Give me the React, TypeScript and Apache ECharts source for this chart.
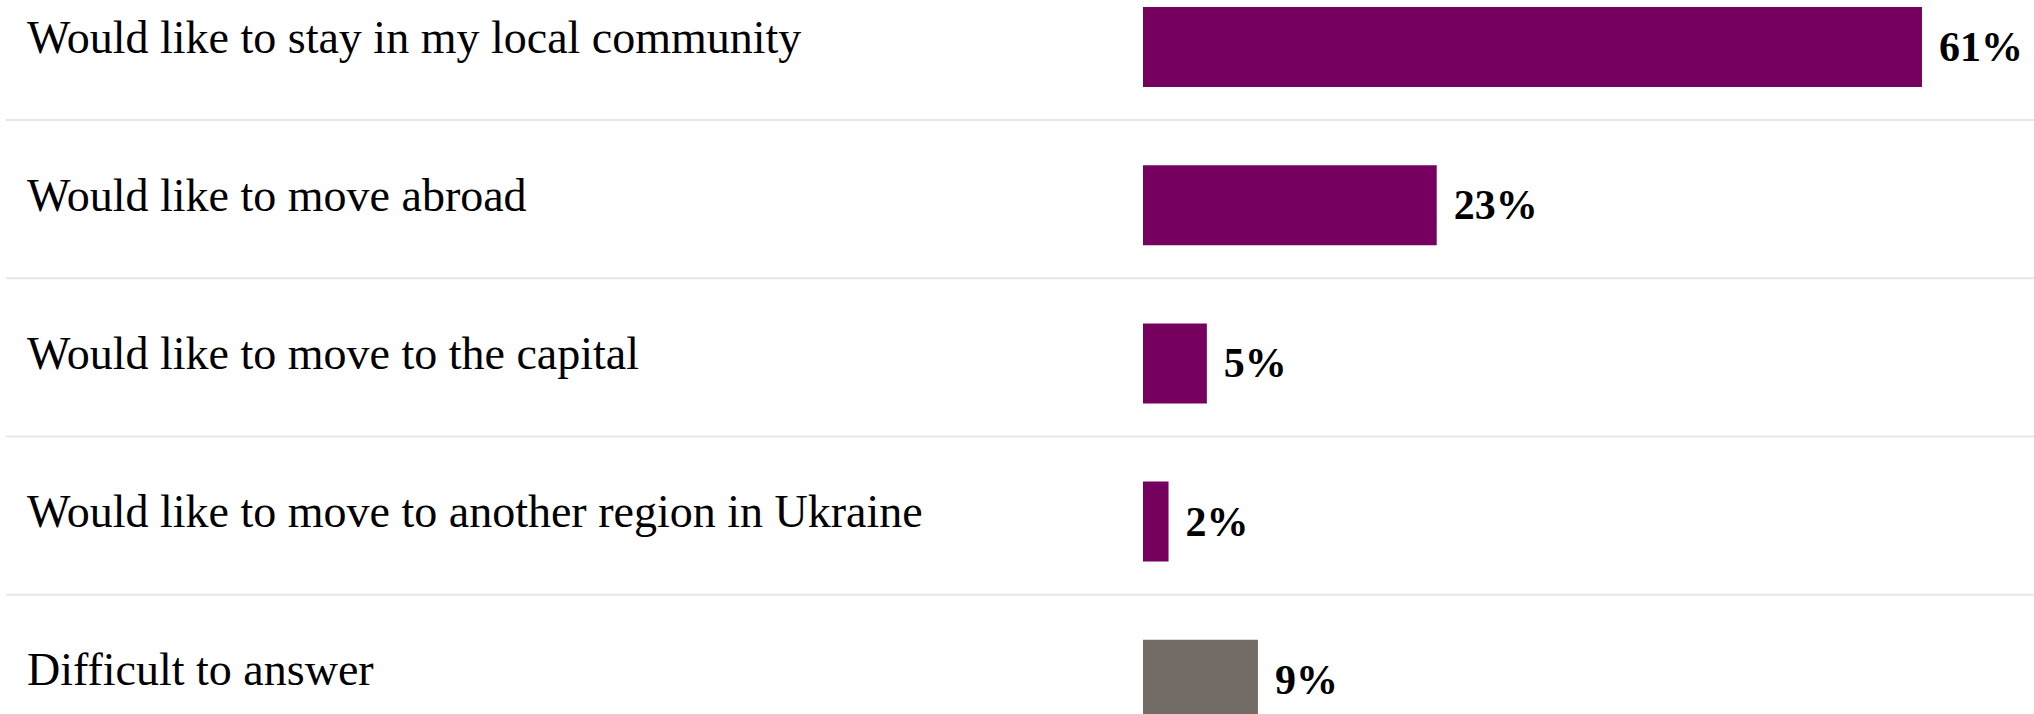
import React, { useEffect, useRef } from "react";
import * as echarts from "echarts";

const categories = [
  "Would like to stay in my local community",
  "Would like to move abroad",
  "Would like to move to the capital",
  "Would like to move to another region in Ukraine",
  "Difficult to answer",
];
const values = [61, 23, 5, 2, 9];
const neutralCategory = "Difficult to answer";

const PURPLE = "#76005e";
const GREY = "#736b65";
const FONT = "'Liberation Serif', 'Times New Roman', serif";

export default function App() {
  const ref = useRef<HTMLDivElement>(null);

  useEffect(() => {
    if (!ref.current) return;
    const chart = echarts.init(ref.current, null, { renderer: "svg" });
    const option: any = {
      animation: false,
      backgroundColor: "#ffffff",
      grid: { left: 1143, top: 7.9, width: 69 * 12.77, height: 791 },
      xAxis: {
        type: "value",
        min: 0,
        max: 69,
        show: false,
      },
      yAxis: {
        type: "category",
        data: categories,
        inverse: true,
        axisLine: { show: false },
        axisTick: { show: false },
        splitLine: { show: false },
        axisLabel: {
          align: "left",
          margin: 1116,
          color: "#000",
          fontFamily: FONT,
          fontSize: 46,
          verticalAlign: "bottom",
          lineHeight: 20,
        },
      },
      series: [
        {
          type: "bar",
          data: values.map((v, i) => ({
            value: v,
            itemStyle: { color: categories[i] === neutralCategory ? GREY : PURPLE },
          })),
          barWidth: 80,
          label: {
            show: true,
            position: "right",
            distance: 17,
            formatter: "{c}%",
            color: "#000",
            fontFamily: FONT,
            fontWeight: "bold",
            fontSize: 42,
          },
        },
      ],
    };
    chart.setOption(option);

    const centers = categories.map((_, i) => chart.convertToPixel({ yAxisIndex: 0 }, i) as number);
    const elements: any[] = [];
    for (let i = 1; i < centers.length; i++) {
      const y = (centers[i - 1] + centers[i]) / 2 - 6;
      elements.push({
        type: "line",
        shape: { x1: 6, y1: y, x2: 2034, y2: y },
        style: { stroke: "#e6e6e3", lineWidth: 2 },
        z: -1,
      });
    }
    chart.setOption({ graphic: elements });

    return () => chart.dispose();
  }, []);

  return (
    <div
      style={{
        position: "fixed",
        top: 0,
        left: 0,
        width: 2034,
        height: 714,
        overflow: "hidden",
        background: "#fff",
      }}
    >
      <div
        ref={ref}
        style={{ position: "absolute", top: -40, left: 0, width: 2034, height: 800 }}
      />
    </div>
  );
}
